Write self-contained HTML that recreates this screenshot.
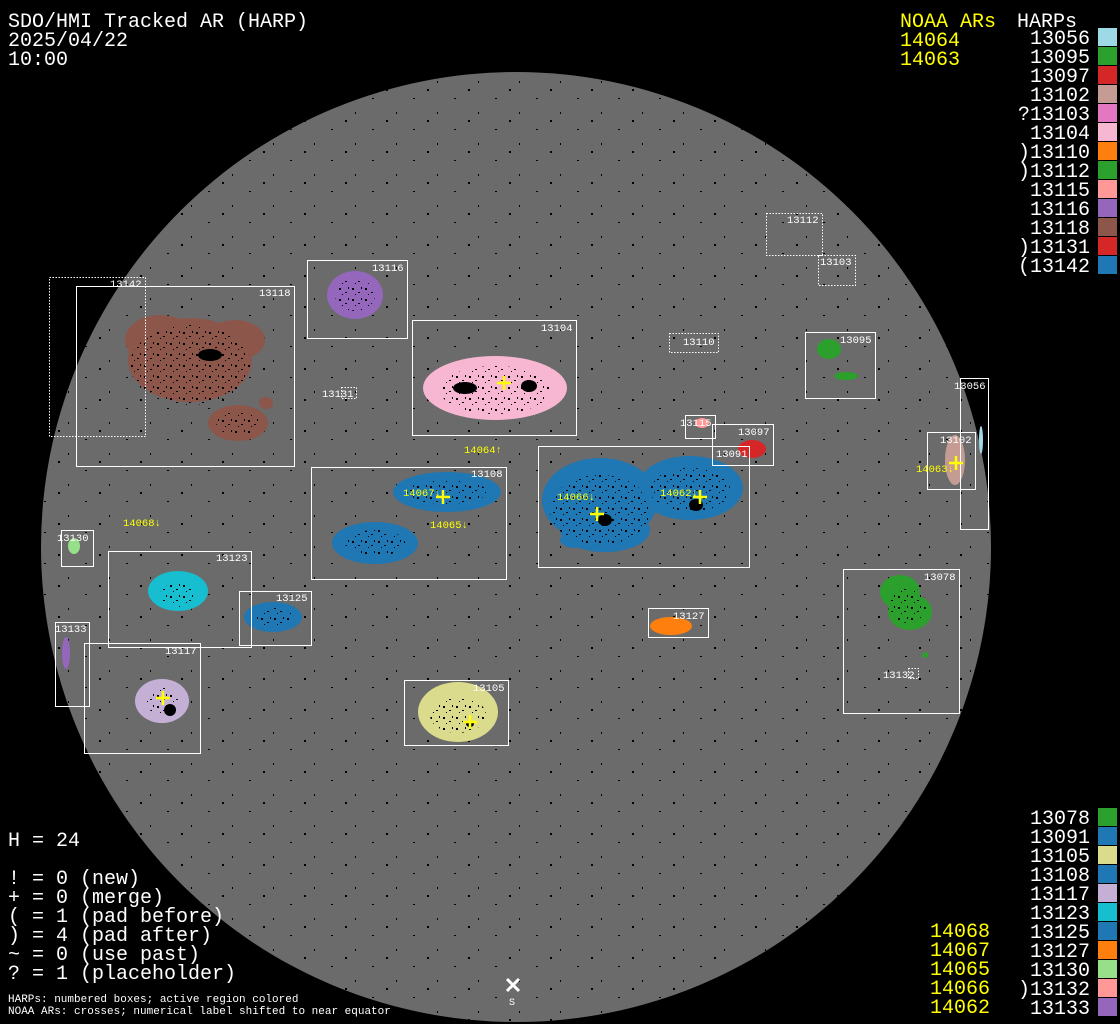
<!DOCTYPE html>
<html><head><meta charset="utf-8"><style>
html,body{margin:0;padding:0;background:#000;}
svg{display:block}
text{font-family:"Liberation Mono","DejaVu Sans Mono",monospace;}
</style></head><body>
<svg width="1120" height="1024" viewBox="0 0 1120 1024" xmlns="http://www.w3.org/2000/svg">
<defs>
<pattern id="sp" width="41" height="31" patternUnits="userSpaceOnUse">
<rect x="3" y="5" width="2" height="1" fill="#000"/><rect x="27" y="19" width="1" height="2" fill="#000"/><rect x="17" y="27" width="2" height="2" fill="#000"/>
</pattern>
<pattern id="dn" width="13" height="11" patternUnits="userSpaceOnUse">
<rect x="1" y="2" width="2" height="2" fill="#000"/><rect x="7" y="6" width="2" height="1" fill="#000"/><rect x="10" y="1" width="1" height="2" fill="#000"/><rect x="4" y="8" width="1" height="1" fill="#000"/>
</pattern>
<clipPath id="disk"><circle cx="516" cy="547" r="475"/></clipPath>
</defs>
<rect width="1120" height="1024" fill="#000"/>
<circle cx="516" cy="547" r="475" fill="#6b6b6b"/>
<rect x="40" y="70" width="955" height="955" fill="url(#sp)" clip-path="url(#disk)"/>
<!-- blobs -->
<g id="blobs">
<ellipse cx="190" cy="360" rx="62" ry="42" fill="#8c564b"/>
<ellipse cx="160" cy="340" rx="35" ry="25" fill="#8c564b"/>
<ellipse cx="235" cy="340" rx="30" ry="20" fill="#8c564b"/>
<ellipse cx="238" cy="423" rx="30" ry="18" fill="#8c564b"/>
<ellipse cx="266" cy="403" rx="7" ry="6" fill="#8c564b"/>
<ellipse cx="355" cy="295" rx="28" ry="24" fill="#9467bd"/>
<ellipse cx="495" cy="388" rx="72" ry="32" fill="#f7b6d2"/>
<ellipse cx="829" cy="349" rx="12" ry="10" fill="#2ca02c"/>
<ellipse cx="846" cy="376" rx="12" ry="4" fill="#2ca02c"/>
<ellipse cx="981" cy="440" rx="2" ry="14" fill="#9edae5"/>
<ellipse cx="955" cy="460" rx="10" ry="25" fill="#c49c94"/>
<ellipse cx="702" cy="423" rx="7" ry="5" fill="#ff9896"/>
<ellipse cx="752" cy="449" rx="14" ry="9" fill="#d62728"/>
<ellipse cx="600" cy="500" rx="58" ry="42" fill="#1f77b4"/>
<ellipse cx="690" cy="488" rx="53" ry="32" fill="#1f77b4"/>
<ellipse cx="605" cy="530" rx="45" ry="22" fill="#1f77b4"/>
<ellipse cx="575" cy="540" rx="15" ry="8" fill="#1f77b4"/>
<ellipse cx="447" cy="492" rx="54" ry="20" fill="#1f77b4"/>
<ellipse cx="375" cy="543" rx="43" ry="21" fill="#1f77b4"/>
<ellipse cx="74" cy="546" rx="6" ry="8" fill="#98df8a"/>
<ellipse cx="178" cy="591" rx="30" ry="20" fill="#17becf"/>
<ellipse cx="273" cy="617" rx="29" ry="15" fill="#1f77b4"/>
<ellipse cx="671" cy="626" rx="21" ry="9" fill="#ff7f0e"/>
<ellipse cx="900" cy="592" rx="20" ry="17" fill="#2ca02c"/>
<ellipse cx="910" cy="612" rx="22" ry="18" fill="#2ca02c"/>
<ellipse cx="925" cy="655" rx="3" ry="3" fill="#2ca02c"/>
<ellipse cx="66" cy="653" rx="4" ry="16" fill="#9467bd"/>
<ellipse cx="162" cy="701" rx="27" ry="22" fill="#c5b0d5"/>
<ellipse cx="458" cy="712" rx="40" ry="30" fill="#dbdb8d"/>
</g>
<g fill="url(#dn)">
<ellipse cx="190" cy="365" rx="60" ry="40"/><ellipse cx="238" cy="423" rx="22" ry="12"/>
<ellipse cx="355" cy="295" rx="20" ry="16"/><ellipse cx="495" cy="390" rx="55" ry="24"/>
<ellipse cx="600" cy="510" rx="50" ry="35"/><ellipse cx="690" cy="490" rx="40" ry="22"/>
<ellipse cx="447" cy="492" rx="40" ry="12"/><ellipse cx="375" cy="543" rx="30" ry="13"/>
<ellipse cx="178" cy="595" rx="18" ry="12"/><ellipse cx="273" cy="617" rx="20" ry="9"/>
<ellipse cx="908" cy="605" rx="18" ry="18"/><ellipse cx="162" cy="701" rx="16" ry="14"/>
<ellipse cx="458" cy="715" rx="28" ry="18"/>
</g>
<g fill="#000">
<ellipse cx="465" cy="388" rx="12" ry="6"/><ellipse cx="529" cy="386" rx="8" ry="6"/><ellipse cx="696" cy="505" rx="7" ry="6"/><ellipse cx="605" cy="520" rx="7" ry="6"/><ellipse cx="170" cy="710" rx="6" ry="6"/><ellipse cx="470" cy="724" rx="4" ry="3"/><ellipse cx="210" cy="355" rx="12" ry="6"/>
</g>
<!-- boxes -->
<g fill="none" stroke="#fff" stroke-width="1">
<rect x="76.5" y="286.5" width="218" height="180"/>
<rect x="307.5" y="260.5" width="100" height="78"/>
<rect x="412.5" y="320.5" width="164" height="115"/>
<rect x="805.5" y="332.5" width="70" height="66"/>
<rect x="960.5" y="378.5" width="28" height="151"/>
<rect x="927.5" y="432.5" width="48" height="57"/>
<rect x="685.5" y="415.5" width="30" height="23"/>
<rect x="712.5" y="424.5" width="61" height="41"/>
<rect x="538.5" y="446.5" width="211" height="121"/>
<rect x="311.5" y="467.5" width="195" height="112"/>
<rect x="61.5" y="530.5" width="32" height="36"/>
<rect x="108.5" y="551.5" width="143" height="96"/>
<rect x="239.5" y="591.5" width="72" height="54"/>
<rect x="648.5" y="608.5" width="60" height="29"/>
<rect x="843.5" y="569.5" width="116" height="144"/>
<rect x="55.5" y="622.5" width="34" height="84"/>
<rect x="84.5" y="643.5" width="116" height="110"/>
<rect x="404.5" y="680.5" width="104" height="65"/>
</g>
<g fill="none" stroke="#fff" stroke-width="1" stroke-dasharray="1.5,1.5">
<rect x="49.5" y="277.5" width="96" height="159"/>
<rect x="341.5" y="387.5" width="15" height="11"/>
<rect x="766.5" y="213.5" width="56" height="42"/>
<rect x="818.5" y="255.5" width="37" height="30"/>
<rect x="669.5" y="333.5" width="49" height="19"/>
<rect x="908.5" y="668.5" width="10" height="10"/>
</g>
<g fill="#fff" font-size="10.5">
<text x="110" y="287">13142</text><text x="259" y="296">13118</text><text x="372" y="271">13116</text>
<text x="541" y="331">13104</text><text x="322" y="397">13131</text><text x="787" y="223">13112</text>
<text x="820" y="265">13103</text><text x="683" y="345">13110</text><text x="840" y="343">13095</text>
<text x="954" y="389">13056</text><text x="940" y="443">13102</text><text x="680" y="426">13115</text>
<text x="738" y="435">13097</text><text x="716" y="457">13091</text><text x="471" y="477">13108</text>
<text x="57" y="541">13130</text><text x="216" y="561">13123</text><text x="276" y="601">13125</text>
<text x="673" y="619">13127</text><text x="924" y="580">13078</text><text x="883" y="678">13132</text>
<text x="55" y="632">13133</text><text x="165" y="654">13117</text><text x="473" y="691">13105</text>
</g>
<g fill="#ffff00" font-size="10.5">
<text x="464" y="453">14064↑</text><text x="403" y="496">14067↓</text><text x="430" y="528">14065↓</text>
<text x="557" y="500">14066↓</text><text x="660" y="496">14062↓</text><text x="916" y="472">14063↓</text>
<text x="123" y="526">14068↓</text>
</g>
<g stroke="#ffff00" stroke-width="2.5">
<path d="M497 383h14M504 376v14"/><path d="M436 497h14M443 490v14"/><path d="M590 514h14M597 507v14"/>
<path d="M693 497h14M700 490v14"/><path d="M949 463h14M956 456v14"/><path d="M156 698h14M163 691v14"/>
<path d="M463 722h14M470 715v14"/>
</g>
<path d="M507 979l12 12M519 979l-12 12" stroke="#fff" stroke-width="3"/>
<text x="509" y="1005" fill="#fff" font-size="10">S</text>
<g fill="#fff" font-size="20">
<text x="8" y="27">SDO/HMI Tracked AR (HARP)</text>
<text x="8" y="46">2025/04/22</text>
<text x="8" y="65">10:00</text>
<text x="8" y="846">H = 24</text>
<text x="8" y="884">! = 0 (new)</text>
<text x="8" y="903">+ = 0 (merge)</text>
<text x="8" y="922">( = 1 (pad before)</text>
<text x="8" y="941">) = 4 (pad after)</text>
<text x="8" y="960">~ = 0 (use past)</text>
<text x="8" y="979">? = 1 (placeholder)</text>
<text x="1017" y="27">HARPs</text>
</g>
<g fill="#fff" font-size="11">
<text x="8" y="1002">HARPs: numbered boxes; active region colored</text>
<text x="8" y="1014">NOAA ARs: crosses; numerical label shifted to near equator</text>
</g>
<g fill="#ffff00" font-size="20">
<text x="900" y="27">NOAA ARs</text>
<text x="900" y="46">14064</text><text x="900" y="65">14063</text>
<text x="930" y="937">14068</text><text x="930" y="956">14067</text><text x="930" y="975">14065</text>
<text x="930" y="994">14066</text><text x="930" y="1013">14062</text>
</g>
<g fill="#fff" font-size="20" text-anchor="end">
<text x="1090" y="44">13056</text><text x="1090" y="63">13095</text><text x="1090" y="82">13097</text>
<text x="1090" y="101">13102</text><text x="1090" y="120">?13103</text><text x="1090" y="139">13104</text>
<text x="1090" y="158">)13110</text><text x="1090" y="177">)13112</text><text x="1090" y="196">13115</text>
<text x="1090" y="215">13116</text><text x="1090" y="234">13118</text><text x="1090" y="253">)13131</text>
<text x="1090" y="272">(13142</text>
<text x="1090" y="824">13078</text><text x="1090" y="843">13091</text><text x="1090" y="862">13105</text>
<text x="1090" y="881">13108</text><text x="1090" y="900">13117</text><text x="1090" y="919">13123</text>
<text x="1090" y="938">13125</text><text x="1090" y="957">13127</text><text x="1090" y="976">13130</text>
<text x="1090" y="995">)13132</text><text x="1090" y="1014">13133</text>
</g>
<g>
<rect x="1098" y="28" width="19" height="18" fill="#9edae5"/><rect x="1098" y="47" width="19" height="18" fill="#2ca02c"/>
<rect x="1098" y="66" width="19" height="18" fill="#d62728"/><rect x="1098" y="85" width="19" height="18" fill="#c49c94"/>
<rect x="1098" y="104" width="19" height="18" fill="#e377c2"/><rect x="1098" y="123" width="19" height="18" fill="#f7b6d2"/>
<rect x="1098" y="142" width="19" height="18" fill="#ff7f0e"/><rect x="1098" y="161" width="19" height="18" fill="#2ca02c"/>
<rect x="1098" y="180" width="19" height="18" fill="#ff9896"/><rect x="1098" y="199" width="19" height="18" fill="#9467bd"/>
<rect x="1098" y="218" width="19" height="18" fill="#8c564b"/><rect x="1098" y="237" width="19" height="18" fill="#d62728"/>
<rect x="1098" y="256" width="19" height="18" fill="#1f77b4"/>
<rect x="1098" y="808" width="19" height="18" fill="#2ca02c"/><rect x="1098" y="827" width="19" height="18" fill="#1f77b4"/>
<rect x="1098" y="846" width="19" height="18" fill="#dbdb8d"/><rect x="1098" y="865" width="19" height="18" fill="#1f77b4"/>
<rect x="1098" y="884" width="19" height="18" fill="#c5b0d5"/><rect x="1098" y="903" width="19" height="18" fill="#17becf"/>
<rect x="1098" y="922" width="19" height="18" fill="#1f77b4"/><rect x="1098" y="941" width="19" height="18" fill="#ff7f0e"/>
<rect x="1098" y="960" width="19" height="18" fill="#98df8a"/><rect x="1098" y="979" width="19" height="18" fill="#ff9896"/>
<rect x="1098" y="998" width="19" height="18" fill="#9467bd"/>
</g>
</svg>
</body></html>
